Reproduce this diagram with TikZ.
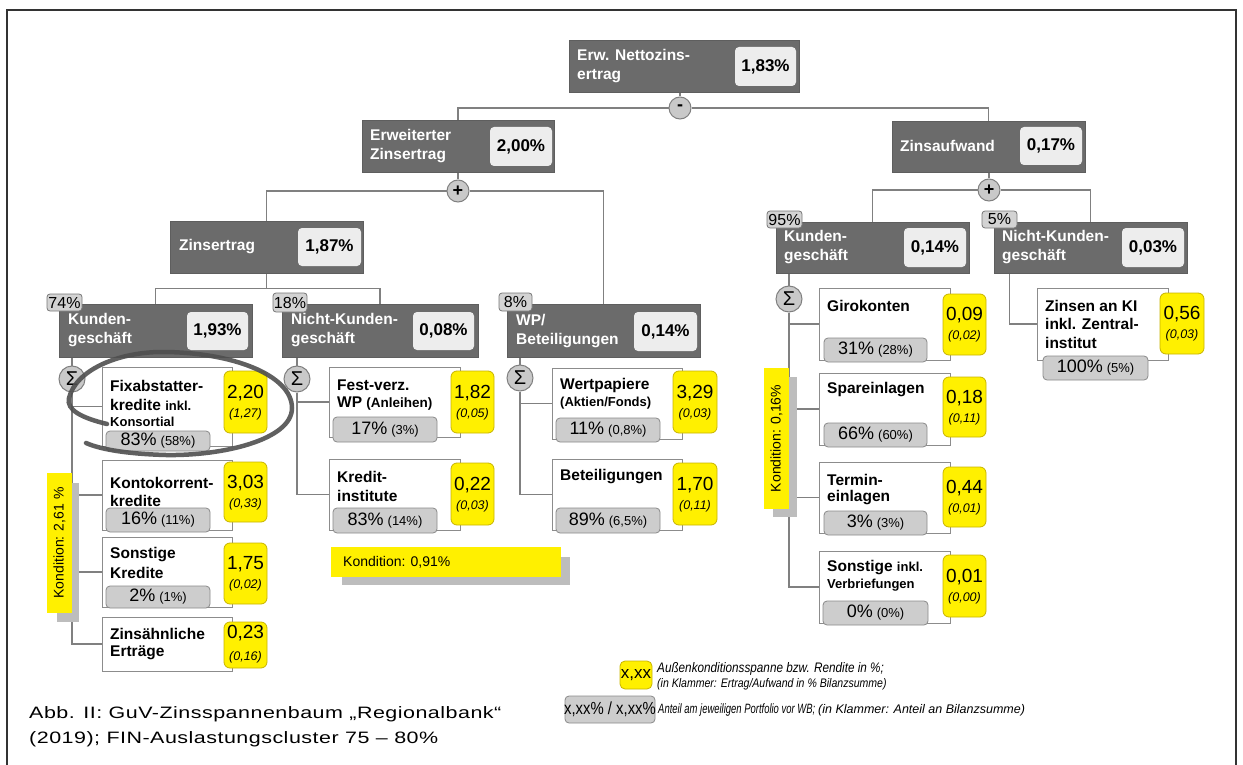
\documentclass[tikz,border=0pt]{standalone}
\usepackage{fontspec}
\setmainfont{Liberation Sans}
\newfontfamily\legf[FakeStretch=0.85]{Liberation Sans}
\newfontfamily\legn[FakeStretch=0.7]{Liberation Sans}
\newfontfamily\capf[FakeStretch=1.3,LetterSpace=3]{Liberation Sans}
\usetikzlibrary{fit,calc}
\pgfdeclarelayer{bg}
\pgfsetlayers{bg,main}
\definecolor{dk}{HTML}{6B6B6B}
\definecolor{dkb}{HTML}{5E5E5E}
\definecolor{vb}{HTML}{EDEDED}
\definecolor{tagf}{HTML}{D3D3D3}
\definecolor{tagd}{HTML}{777777}
\definecolor{wbd}{HTML}{8C8C8C}
\definecolor{yel}{HTML}{FFF000}
\definecolor{yeld}{HTML}{C8B400}
\definecolor{gf}{HTML}{CDCDCD}
\definecolor{gd}{HTML}{8A8A8A}
\definecolor{cf}{HTML}{C9C9C9}
\definecolor{lnc}{HTML}{808080}
\definecolor{shd}{HTML}{BDBDBD}
\definecolor{ringc}{HTML}{4F4F4F}
\definecolor{frm}{HTML}{333333}
\newcommand\ybx[7]{%
  \node[yb, fit={(#2,#3) (#4,#5)}] (#1) {};
  \node[ynum] (#1n) at ($(#1.center)+(0,-9)$) {#6};
  \node[yit] (#1p) at ($(#1.center)+(0,12)$) {(#7)};}
\newcommand\gbx[7]{%
  \node[gb, fit={(#2,#3) (#4,#5)}] (#1) {};
  \node[inner sep=0pt] (#1t) at (#1.center) {{\fontsize{18}{19}\selectfont #6\%}\hspace{4pt}{\fontsize{13}{14}\selectfont (#7\%)}};}
\newcommand\dbx[9]{%
  \node[dbox, fit={(#2,#3) (#4,#5)}] (#1) {};
  \node[vbox, fit={(#6,#7) (#8,#9)}] (#1v) {};}
\begin{document}
\begin{tikzpicture}[x=1pt,y=-1pt,
  dbox/.style={fill=dk, draw=dkb, inner sep=0pt},
  vbox/.style={fill=vb, rounded corners=4pt, inner sep=0pt},
  vtx/.style={font=\fontsize{17}{18}\selectfont\bfseries, inner sep=0pt},
  wlbl/.style={font=\fontsize{15.5}{18.5}\selectfont\bfseries, text=white, align=left, anchor=west, inner sep=0pt},
  clbl/.style={font=\fontsize{15.5}{18.5}\selectfont\bfseries, anchor=west, inner sep=0pt},
  slbl/.style={font=\fontsize{13}{15}\selectfont\bfseries, anchor=west, inner sep=0pt},
  tagbox/.style={fill=tagf, draw=tagd, rounded corners=3pt, inner sep=0pt, line width=0.8pt},
  ttx/.style={font=\fontsize{16}{17}\selectfont, inner sep=0pt},
  wb/.style={fill=white, draw=wbd, line width=1pt, inner sep=0pt},
  yb/.style={fill=yel, draw=yeld, rounded corners=6pt, line width=0.8pt, inner sep=0pt},
  ynum/.style={font=\fontsize{19}{20}\selectfont, inner sep=0pt},
  yit/.style={font=\fontsize{12.5}{13}\selectfont\itshape, inner sep=0pt},
  gb/.style={fill=gf, draw=gd, rounded corners=4pt, line width=0.8pt, inner sep=0pt},
  opnode/.style={circle, fill=cf, draw=lnc, line width=1pt, minimum size=22pt, inner sep=0pt, font=\fontsize{18}{18}\selectfont\bfseries},
  signode/.style={circle, fill=cf, draw=lnc, line width=1pt, minimum size=26pt, inner sep=0pt, font=\fontsize{20}{20}\selectfont},
  cn/.style={draw=lnc, line width=1.2pt},
  kbar/.style={fill=yel, draw=none, inner sep=0pt},
  kshd/.style={fill=shd, draw=none, inner sep=0pt},
  ktx/.style={font=\fontsize{14}{15}\selectfont, inner sep=0pt},
  legA/.style={font=\legf\fontsize{13.8}{15}\selectfont\itshape, anchor=west, inner sep=0pt},
  legB/.style={font=\legf\fontsize{12.4}{14}\selectfont\itshape, anchor=west, inner sep=0pt},
  legD/.style={font=\legn\fontsize{13.5}{15}\selectfont\itshape, anchor=west, inner sep=0pt},
  legC/.style={font=\fontsize{12.5}{14}\selectfont\itshape, anchor=west, inner sep=0pt},
  captxt/.style={font=\capf\fontsize{16.5}{20}\selectfont, anchor=base west, inner sep=0pt}
]
\useasboundingbox (0,0) rectangle (1243,765);
% frame
\draw[draw=frm, line width=1.5pt] (7,765) -- (7,10) -- (1236,10) -- (1236,765);

% ---- top level
\dbx{ne}{569}{40}{799}{92}{735}{47}{796}{86}
\node[vtx] (net) at (nev.center) {1,83\%};
\node[wlbl] (nel) at (577,66) {Erw. Nettozins-\\ertrag};
\node[opnode] (minus) at (680,108) {-};

\dbx{erw}{362}{120}{554}{172}{490}{127}{552}{166}
\node[vtx] (erwt) at (erwv.center) {2,00\%};
\node[wlbl] (erwl) at (370,146) {Erweiterter\\Zinsertrag};
\node[opnode] (plusa) at (458,191) {+};

\dbx{za}{892}{121}{1085}{172}{1020}{127}{1082}{165}
\node[vtx] (zat) at (zav.center) {0,17\%};
\node[wlbl] (zal) at (900,146) {Zinsaufwand};
\node[opnode] (plusb) at (989,190) {+};

\dbx{zins}{170}{221}{363}{273}{298}{228}{361}{266}
\node[vtx] (zinst) at (zinsv.center) {1,87\%};
\node[wlbl] (zinsl) at (179,247) {Zinsertrag};

% ---- level 3
\dbx{kg}{59}{304}{252}{357}{187}{312}{248}{350}
\node[vtx] (kgt) at (kgv.center) {1,93\%};
\node[wlbl] (kgl) at (68,330) {Kunden-\\geschäft};
\node[tagbox, fit={(47,294) (82,311)}] (kgtag) {};
\node[ttx] (kgtagt) at (kgtag.center) {74\%};

\dbx{nk}{282}{304}{478}{357}{413}{312}{474}{350}
\node[vtx] (nkt) at (nkv.center) {0,08\%};
\node[wlbl] (nkl) at (291,330) {Nicht-Kunden-\\geschäft};
\node[tagbox, fit={(273,293) (307,312)}] (nktag) {};
\node[ttx] (nktagt) at (nktag.center) {18\%};

\dbx{wp}{507}{304}{700}{357}{634}{312}{697}{351}
\node[vtx] (wpt) at (wpv.center) {0,14\%};
\node[wlbl] (wpl) at (516,331) {WP/\\Beteiligungen};
\node[tagbox, fit={(499,293) (532,311)}] (wptag) {};
\node[ttx] (wptagt) at (wptag.center) {8\%};

\dbx{kr}{776}{222}{969}{273}{904}{228}{966}{267}
\node[vtx] (krt) at (krv.center) {0,14\%};
\node[wlbl] (krl) at (784,247) {Kunden-\\geschäft};
\node[tagbox, fit={(767,211) (802,228)}] (krtag) {};
\node[ttx] (krtagt) at (krtag.center) {95\%};

\dbx{nkr}{994}{222}{1187}{273}{1122}{228}{1184}{267}
\node[vtx] (nkrt) at (nkrv.center) {0,03\%};
\node[wlbl] (nkrl) at (1002,247) {Nicht-Kunden-\\geschäft};
\node[tagbox, fit={(982,211) (1017,228)}] (nkrtag) {};
\node[ttx] (nkrtagt) at (nkrtag.center) {5\%};

% sigma nodes
\node[signode] (s1) at (72,379) {Σ};
\node[signode] (s2) at (297,379) {Σ};
\node[signode] (s3) at (520,378) {Σ};
\node[signode] (s4) at (789,299) {Σ};

% ---- children left
\node[wb, fit={(102,367) (232,446)}] (fix) {};
\node[clbl] (fixa) at (110,386) {Fixabstatter-};
\node[clbl] (fixb) at (110,405) {kredite {\fontsize{13}{14}\selectfont inkl.}};
\node[slbl] (fixc) at (110,422) {Konsortial};
\gbx{fixg}{106}{431}{210}{451}{83}{58}
\ybx{fixy}{224}{371}{267}{433}{2,20}{1,27}

\node[wb, fit={(102,460) (232,530)}] (kk) {};
\node[clbl] (kka) at (110,483) {Kontokorrent-};
\node[clbl] (kkb) at (110,501) {kredite};
\gbx{kkg}{106}{508}{210}{532}{16}{11}
\ybx{kky}{224}{462}{267}{522}{3,03}{0,33}

\node[wb, fit={(102,537) (232,607)}] (sk) {};
\node[clbl] (ska) at (110,555) {Sonstige};
\node[clbl] (skb) at (110,573) {Kredite};
\gbx{skg}{106}{586}{210}{608}{2}{1}
\ybx{sky}{224}{543}{267}{604}{1,75}{0,02}

\node[wb, fit={(102,617) (232,671)}] (ze) {};
\node[clbl] (zea) at (110,634) {Zinsähnliche};
\node[clbl] (zeb) at (110,653) {Erträge};
\node[yb, fit={(224,622) (267,668)}] (zey) {};
\node[ynum] (zeyn) at ($(zey.center)+(0,-12)$) {0,23};
\node[yit] (zeyp) at ($(zey.center)+(0,12)$) {(0,16)};

% ---- children middle
\node[wb, fit={(329,367) (460,437)}] (fv) {};
\node[clbl] (fva) at (337,385) {Fest-verz.};
\node[clbl] (fvb) at (337,404) {WP {\fontsize{13.5}{14}\selectfont (Anleihen)}};
\gbx{fvg}{333}{417}{437}{442}{17}{3}
\ybx{fvy}{451}{371}{494}{433}{1,82}{0,05}

\node[wb, fit={(329,459) (460,530)}] (ki) {};
\node[clbl] (kia) at (337,477) {Kredit-};
\node[clbl] (kib) at (337,496) {institute};
\gbx{kig}{333}{508}{437}{533}{83}{14}
\ybx{kiy}{451}{463}{494}{525}{0,22}{0,03}

% ---- children WP
\node[wb, fit={(552,368) (682,439)}] (wpa) {};
\node[clbl] (wpaa) at (560,385) {Wertpapiere};
\node[slbl] (wpab) at (560,403) {(Aktien/Fonds)};
\gbx{wpag}{556}{418}{660}{442}{11}{0,8}
\ybx{wpay}{673}{371}{717}{433}{3,29}{0,03}

\node[wb, fit={(552,459) (682,530)}] (bt) {};
\node[clbl] (bta) at (560,477) {Beteiligungen};
\gbx{btg}{556}{508}{660}{533}{89}{6,5}
\ybx{bty}{673}{463}{717}{525}{1,70}{0,11}

% ---- children right
\node[wb, fit={(819,288) (950,360)}] (gk) {};
\node[clbl] (gka) at (827,306) {Girokonten};
\gbx{gkg}{824}{338}{927}{362}{31}{28}
\ybx{gky}{943}{294}{986}{355}{0,09}{0,02}

\node[wb, fit={(819,373) (950,445)}] (se) {};
\node[clbl] (sea) at (827,390) {Spareinlagen};
\gbx{seg}{824}{423}{927}{447}{66}{60}
\ybx{sey}{943}{377}{986}{437}{0,18}{0,11}

\node[wb, fit={(819,462) (950,533)}] (te) {};
\node[clbl] (tea) at (827,480) {Termin-};
\node[clbl] (teb) at (827,498) {einlagen};
\gbx{teg}{824}{511}{927}{535}{3}{3}
\ybx{tey}{943}{467}{986}{527}{0,44}{0,01}

\node[wb, fit={(819,551) (950,623)}] (so) {};
\node[clbl] (soa) at (827,568) {Sonstige {\fontsize{13}{14}\selectfont inkl.}};
\node[slbl] (sob) at (827,585) {Verbriefungen};
\gbx{sog}{823}{601}{928}{625}{0}{0}
\ybx{soy}{943}{555}{986}{617}{0,01}{0,00}

\node[wb, fit={(1037,288) (1168,360)}] (kl) {};
\node[clbl] (kla) at (1045,306) {Zinsen an KI};
\node[clbl] (klb) at (1045,324) {inkl. Zentral-};
\node[clbl] (klc) at (1045,343) {institut};
\gbx{klg}{1043}{356}{1148}{380}{100}{5}
\ybx{kly}{1160}{293}{1204}{354}{0,56}{0,03}

% ---- connectors
\begin{pgfonlayer}{bg}
\draw[cn] (minus |- ne.south) -- (minus);
\draw[cn] (minus) -| (erw.north);
\draw[cn] (minus) -| (za.north);
\draw[cn] (plusa |- erw.south) -- (plusa);
\draw[cn] (plusa) -| (zins.north);
\draw[cn] (plusa) -| (wp.north);
\draw[cn] (plusb |- za.south) -- (plusb);
\draw[cn] (plusb) -| (kr.north);
\draw[cn] (plusb) -| (nkr.north);
\draw[cn] (zins.south) -- ++(0,15) coordinate (zj);
\draw[cn] (zj) -| (kg.north);
\draw[cn] (zj) -| (nk.north);
\draw[cn] (s1 |- kg.south) -- (s1);
\draw[cn] (s1) |- (fix.west);
\draw[cn] (s1) |- (kk.west);
\draw[cn] (s1) |- (sk.west);
\draw[cn] (s1) |- (ze.west);
\draw[cn] (s2 |- nk.south) -- (s2);
\draw[cn] (s2) |- (fv.west);
\draw[cn] (s2) |- (ki.west);
\draw[cn] (s3 |- wp.south) -- (s3);
\draw[cn] (s3) |- (wpa.west);
\draw[cn] (s3) |- (bt.west);
\draw[cn] (s4 |- kr.south) -- (s4);
\draw[cn] (s4) |- (gk.west);
\draw[cn] (s4) |- (se.west);
\draw[cn] (s4) |- (te.west);
\draw[cn] (s4) |- (so.west);
\draw[cn] ([xshift=16pt]nkr.south west) |- (kl.west);
\end{pgfonlayer}

% ---- Kondition bars
\node[kshd, fit={(57,483) (79,622)}] (k1s) {};
\node[kbar, fit={(47,473) (72,613)}] (k1) {};
\node[ktx, rotate=90] (k1t) at (k1.center) {Kondition: 2,61 \%};

\node[kshd, fit={(342,557) (570,585)}] (k2s) {};
\node[kbar, fit={(331,547) (561,577)}] (k2) {};
\node[ktx, anchor=west] (k2t) at (343,562) {Kondition: 0,91\%};

\node[kshd, fit={(773,377) (797,517)}] (k3s) {};
\node[kbar, fit={(764,368) (789,509)}] (k3) {};
\node[ktx, rotate=90] (k3t) at (k3.center) {Kondition: 0,16\%};

% ---- hand-drawn ring
\draw[draw=ringc, line width=4.5pt, line cap=round, opacity=0.9]
  (107,424) .. controls (82,418) and (66,410) .. (69,398)
  .. controls (76,370) and (118,352) .. (162,352)
  .. controls (232,352) and (292,375) .. (292,408)
  .. controls (292,440) and (222,456) .. (166,455)
  .. controls (130,454) and (102,450) .. (86,443);

% ---- legend
\node[yb, rounded corners=5pt, fit={(620,661) (652,689)}] (ly) {};
\node[inner sep=0pt, font=\fontsize{17}{18}\selectfont] (lyt) at (ly.center) {x,xx};
\node[gb, fit={(565,696) (655,723)}] (lg) {};
\node[inner sep=0pt, font=\legf\fontsize{17.5}{19}\selectfont] (lgt) at (lg.center) {x,xx\% / x,xx\%};
\node[legA] (l1) at (657,669) {Außenkonditionsspanne bzw. Rendite in \%;};
\node[legB] (l2) at (657,684) {(in Klammer: Ertrag/Aufwand in \% Bilanzsumme)};
\node[legD] (l3) at (658,710) {Anteil am jeweiligen Portfolio vor WB;};
\node[legC] (l4) at (818,710) {(in Klammer: Anteil an Bilanzsumme)};

% ---- caption
\node[captxt] (c1) at (29,718) {Abb. II: GuV-Zinsspannenbaum „Regionalbank“};
\node[captxt] (c2) at (29,743) {(2019); FIN-Auslastungscluster 75 – 80\%};
\end{tikzpicture}
\end{document}
